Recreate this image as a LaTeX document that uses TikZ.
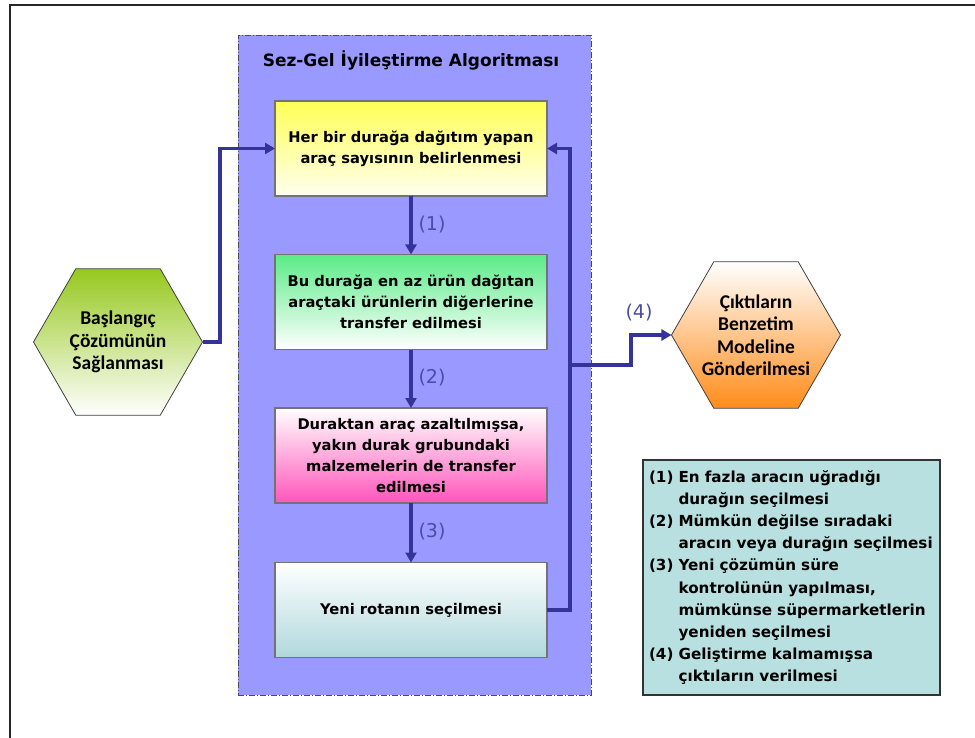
\documentclass[tikz,border=0pt]{standalone}
\usepackage{fontspec}
\setmainfont{DejaVu Sans}
\newfontfamily\hexfont{Carlito}
\usetikzlibrary{shapes.geometric,arrows.meta}
\definecolor{arrowc}{RGB}{51,51,153}
\definecolor{labc}{RGB}{75,75,168}
\definecolor{contc}{RGB}{153,153,255}
\definecolor{yel}{RGB}{255,255,85}
\definecolor{yelw}{RGB}{255,255,238}
\definecolor{grn}{RGB}{90,235,135}
\definecolor{pnk}{RGB}{255,85,187}
\definecolor{tea}{RGB}{176,216,220}
\definecolor{hexg}{RGB}{150,200,30}
\definecolor{hexo}{RGB}{255,140,26}
\definecolor{legc}{RGB}{184,224,224}
\tikzset{
  stepbox/.style={draw=gray!90!black, line width=1.1pt, minimum width=272pt, minimum height=95pt,
    inner sep=0pt, outer sep=0pt, align=center, font=\bfseries\fontsize{14.7}{21}\selectfont},
  flow/.style={draw=arrowc, line width=3.6pt, -{Triangle[length=10pt,width=11pt]}},
  lab/.style={text=labc, font=\fontsize{19}{21}\selectfont, inner sep=0pt},
  hexshape/.style={regular polygon, regular polygon sides=6, minimum size=169pt, inner sep=0pt,
    outer sep=0pt, draw=gray!50!black, line width=0.8pt},
  hextext/.style={align=center, font=\hexfont\bfseries\fontsize{19.5}{22.5}\selectfont, inner sep=0pt},
}
\begin{document}
\begin{tikzpicture}[x=1pt,y=-1pt]
\useasboundingbox (0,0) rectangle (975,738);
% outer frame
\draw[line width=1.6pt, black!85] (10,738) -- (10,5) -- (975,5);
% container
\node[draw=gray!60!black, fill=contc, line width=0.9pt, dash pattern=on 6pt off 2pt on 1pt off 2pt,
  minimum width=353pt, minimum height=660pt, inner sep=0pt] (cont) at (414.5,365) {};
\node[font=\bfseries\fontsize{17}{20}\selectfont, inner sep=0pt] (title) at (411,60) {Sez-Gel İyileştirme Algoritması};
% boxes
\node[stepbox, shade, shading angle=45, top color=yel, bottom color=yelw] (b1) at (411,148.5)
  {Her bir durağa dağıtım yapan\\araç sayısının belirlenmesi};
\node[stepbox, shade, shading angle=-45, top color=grn, bottom color=white] (b2) at (411,302)
  {Bu durağa en az ürün dağıtan\\araçtaki ürünlerin diğerlerine\\transfer edilmesi};
\node[stepbox, shade, shading angle=45, top color=white, bottom color=pnk] (b3) at (411,455.5)
  {Duraktan araç azaltılmışsa,\\yakın durak grubundaki\\malzemelerin de transfer\\edilmesi};
\node[stepbox, shade, shading angle=-45, top color=white, bottom color=tea] (b4) at (411,610)
  {Yeni rotanın seçilmesi};
% hexagons
\node[hexshape, shade, top color=hexg, bottom color=white] (start) at (118,342) {};
\node[hextext] (starttext) at (start) {Başlangıç\\Çözümünün\\Sağlanması};
\node[hexshape, shade, top color=white, bottom color=hexo] (out) at (756,335) {};
\node[hextext] (outtext) at (out) {Çıktıların\\Benzetim\\Modeline\\Gönderilmesi};
% legend
\node[draw=gray!40!black, fill=legc, line width=1.1pt, minimum width=297pt, minimum height=235pt,
  inner sep=0pt, text width=285pt, align=left, font=\bfseries\fontsize{15.2}{22.1}\selectfont] (leg) at (791.5,577.5)
  {(1) En fazla aracın uğradığı\\\phantom{(1) }durağın seçilmesi\\
   (2) Mümkün değilse sıradaki\\\phantom{(2) }aracın veya durağın seçilmesi\\
   (3) Yeni çözümün süre\\\phantom{(3) }kontrolünün yapılması,\\\phantom{(3) }mümkünse süpermarketlerin\\\phantom{(3) }yeniden seçilmesi\\
   (4) Geliştirme kalmamışsa\\\phantom{(4) }çıktıların verilmesi};
% connectors
\coordinate (k0) at (220,148.5);
\coordinate (fbtop) at (570,148.5);
\coordinate (j4) at (570,365);
\coordinate (k4) at (631,365);
\draw[flow] (start.east) -| (k0) -- (b1.west);
\draw[flow] (b1.south) -- (b2.north);
\draw[flow] (b2.south) -- (b3.north);
\draw[flow] (b3.south) -- (b4.north);
\draw[flow] (b4.east) -| (fbtop) -- (b1.east);
\draw[flow] (j4) -- (k4) |- (out.west);
% labels
\node[lab] (l1) at (432,225) {(1)};
\node[lab] (l2) at (432,378) {(2)};
\node[lab] (l3) at (432,532) {(3)};
\node[lab] (l4) at (639,313) {(4)};
\end{tikzpicture}
\end{document}
